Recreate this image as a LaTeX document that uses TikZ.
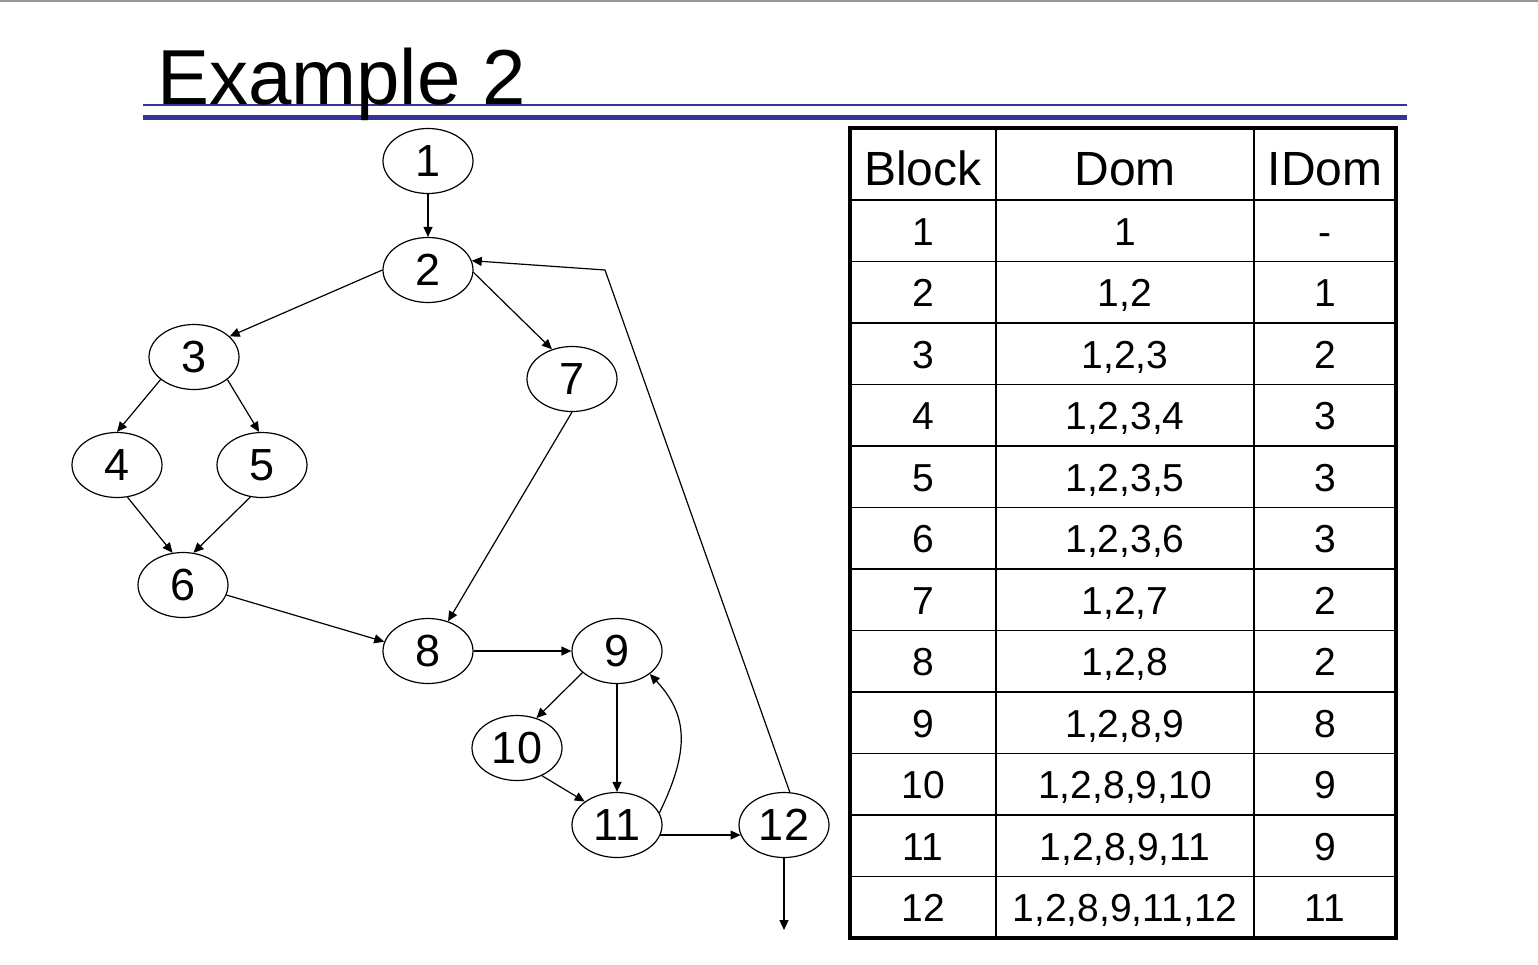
\documentclass[tikz,border=0pt]{standalone}
\usepackage{fontspec}
\setmainfont{Liberation Sans}
\usetikzlibrary{arrows.meta,shapes.geometric}
\definecolor{ruleblue}{RGB}{51,51,153}
\begin{document}
\begin{tikzpicture}[x=1pt,y=-1pt,
  blk/.style={ellipse,draw,line width=1.2pt,minimum width=90pt,minimum height=65pt,inner sep=0pt,font=\fontsize{45}{45}\selectfont},
  edge/.style={line width=1.2pt,-{Triangle[length=10pt,width=9pt]}},
  hdr/.style={anchor=base,font=\fontsize{48}{48}\selectfont,inner sep=0pt},
  cell/.style={anchor=base,font=\fontsize{39}{39}\selectfont,inner sep=0pt},
  inner/.style={line width=1.3pt}]
\useasboundingbox (0,0) rectangle (1538,964);
\fill[white] (0,0) rectangle (1538,964);
\draw[gray!80,line width=2pt] (0,1) -- (1538,1);
\draw[ruleblue,line width=1.5pt] (143,105) -- (1407,105);
\draw[ruleblue,line width=5pt] (143,117.5) -- (1407,117.5);
\node[anchor=base west,inner sep=0pt,font=\fontsize{78}{78}\selectfont] (title) at (157,104) {Example 2};

% graph nodes
\node[blk] (n1) at (428,161) {1};
\node[blk] (n2) at (428,270) {2};
\node[blk] (n3) at (194,357) {3};
\node[blk] (n7) at (572,379) {7};
\node[blk] (n4) at (117,465) {4};
\node[blk] (n5) at (262,465) {5};
\node[blk] (n6) at (183,585) {6};
\node[blk] (n8) at (428,651) {8};
\node[blk] (n9) at (617,651) {9};
\node[blk] (n10) at (517,748) {10};
\node[blk] (n11) at (617,825) {11};
\node[blk] (n12) at (784,825) {12};
\coordinate (c2) at (605,270);
\coordinate (out) at (784,930);

% edges
\draw[edge] (n1.south) -- (n2.north);
\draw[edge] (n2.180) -- (n3.30);
\draw[edge] (n2.357) -- (n7.124);
\draw[edge] (n3.214) -- (n4.north);
\draw[edge] (n3.326) -- (n5.95);
\draw[edge] (n4.288) -- (n6.108);
\draw[edge] (n5.250) -- (n6.72);
\draw[edge] (n6.347) -- (n8.168);
\draw[edge] (n7.south) -- (n8.56);
\draw[edge] (n8.east) -- (n9.west);
\draw[edge] (n9.212) -- (n10.57);
\draw[edge] (n9.south) -- (n11.north);
\draw[edge] (n10.312) -- (n11.144);
\draw[edge] (n11.16) .. controls (690,750) and (688,715) .. (n9.325);
\draw[edge] (n11.347) -- (n12.193);
\draw[edge] (n12.80) -- (c2) -- (n2.12);
\draw[edge] (n12.south) -- (out);

% table
\draw[inner] (996,128) -- (996,938);
\draw[inner] (1254,128) -- (1254,938);
\foreach \k in {0,...,11} {
  \draw[inner] (850,{200+61.5*\k}) -- (1396,{200+61.5*\k});
}
\draw[line width=3.5pt] (850,128) rectangle (1396,938);
\node[hdr] (hb) at (923,185) {Block};
\node[hdr] (hd) at (1125,185) {Dom};
\node[hdr] (hi) at (1325,185) {IDom};
\foreach \b/\d/\i [count=\k] in {1/{1}/-,2/{1,2}/1,3/{1,2,3}/2,4/{1,2,3,4}/3,5/{1,2,3,5}/3,6/{1,2,3,6}/3,7/{1,2,7}/2,8/{1,2,8}/2,9/{1,2,8,9}/8,10/{1,2,8,9,10}/9,11/{1,2,8,9,11}/9,12/{1,2,8,9,11,12}/11} {
  \node[cell] (rb\k) at (923,{200+61.5*(\k-0.5)+14.5}) {\b};
  \node[cell] (rd\k) at (1125,{200+61.5*(\k-0.5)+14.5}) {\d};
  \node[cell] (ri\k) at (1325,{200+61.5*(\k-0.5)+14.5}) {\i};
}
\end{tikzpicture}
\end{document}
